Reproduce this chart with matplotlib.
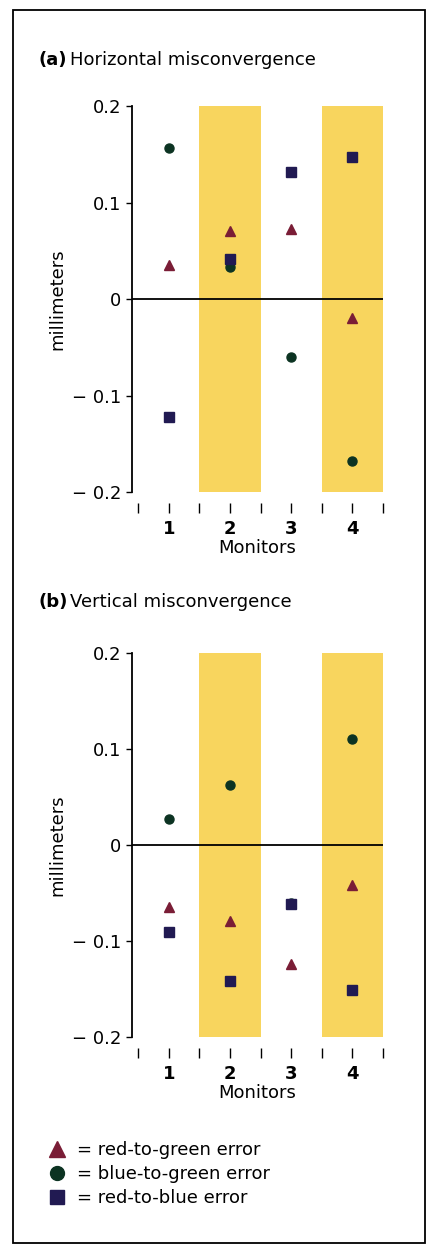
import matplotlib
matplotlib.use("Agg")
import matplotlib.pyplot as plt
from matplotlib.lines import Line2D
from matplotlib.patches import Rectangle

# monitors on the x axis
MONITORS = [1, 2, 3, 4]
SHADED = [2, 4]

# (a) horizontal misconvergence, millimeters
H_RED_GREEN = [0.035, 0.071, 0.073, -0.020]
H_BLUE_GREEN = [0.157, 0.033, -0.060, -0.168]
H_RED_BLUE = [-0.122, 0.042, 0.132, 0.147]

# (b) vertical misconvergence, millimeters
V_RED_GREEN = [-0.065, -0.079, -0.124, -0.042]
V_BLUE_GREEN = [0.027, 0.063, -0.060, 0.110]
V_RED_BLUE = [-0.091, -0.142, -0.062, -0.151]

YTICKS = [-0.2, -0.1, 0, 0.1, 0.2]
YTICKLABELS = ["\u2212 0.2", "\u2212 0.1", "0", "0.1", "0.2"]

C_TRI = "#7a1d36"
C_CIRC = "#0c3322"
C_SQ = "#211a52"
C_BAND = "#f8d55e"

FS = 13

plt.rcParams['font.family'] = ['DejaVu Sans']

fig = plt.figure(figsize=(4.29, 12.45), dpi=100)


def draw_panel(ax, red_green, blue_green, red_blue):
    ax.set_xlim(0.4, 4.5)
    ax.set_ylim(-0.2, 0.2)
    for m in SHADED:
        ax.axvspan(m - 0.5, m + 0.5, color=C_BAND, lw=0, zorder=0)
    ax.axhline(0, color="black", lw=1.3, zorder=1)

    ax.plot(MONITORS, blue_green, "o", color=C_CIRC, ms=6.5, zorder=3)
    ax.plot(MONITORS, red_blue, "s", color=C_SQ, ms=6.5, zorder=4)
    ax.plot(MONITORS, red_green, "^", color=C_TRI, ms=7, zorder=5)

    ax.spines['top'].set_visible(False)
    ax.spines['right'].set_visible(False)
    ax.spines['left'].set_linewidth(1.3)
    ax.spines['bottom'].set_position(('outward', 8))
    ax.spines['bottom'].set_visible(False)

    ax.set_yticks(YTICKS)
    ax.set_yticklabels(YTICKLABELS, fontsize=FS)
    ax.tick_params(axis='y', length=4, width=1, pad=4)

    ax.set_xticks(MONITORS)
    ax.set_xticklabels([str(m) for m in MONITORS], fontsize=FS, fontweight='bold')
    ax.set_xticks([0.5, 1.5, 2.5, 3.5, 4.5], minor=True)
    ax.tick_params(axis='x', which='both', length=7, width=1, pad=5)

    ax.set_xlabel("Monitors", fontsize=FS, labelpad=1)
    ax.set_ylabel("millimeters", fontsize=FS, labelpad=4)


ax1 = fig.add_axes([0.3077, 0.6048, 0.585, 0.310])
draw_panel(ax1, H_RED_GREEN, H_BLUE_GREEN, H_RED_BLUE)

ax2 = fig.add_axes([0.3077, 0.1671, 0.585, 0.3084])
draw_panel(ax2, V_RED_GREEN, V_BLUE_GREEN, V_RED_BLUE)

# panel titles
fig.text(38 / 429, 1 - 60 / 1245, "(a)", fontsize=FS, fontweight='bold', va='center')
fig.text(70 / 429, 1 - 60 / 1245, "Horizontal misconvergence", fontsize=FS, va='center')
fig.text(38 / 429, 1 - 602 / 1245, "(b)", fontsize=FS, fontweight='bold', va='center')
fig.text(70 / 429, 1 - 602 / 1245, "Vertical misconvergence", fontsize=FS, va='center')

# legend
handles = [
    Line2D([], [], marker="^", color=C_TRI, ls="none", ms=12),
    Line2D([], [], marker="o", color=C_CIRC, ls="none", ms=10),
    Line2D([], [], marker="s", color=C_SQ, ls="none", ms=9.5),
]
labels = ["= red-to-green error", "= blue-to-green error", "= red-to-blue error"]
fig.legend(handles, labels, loc="upper left", bbox_to_anchor=(48 / 429, 1 - 1141 / 1245),
           frameon=False, fontsize=FS, handlelength=1.0, handletextpad=0.6,
           labelspacing=0.33, borderpad=0, borderaxespad=0)

# outer frame
fig.patches.append(Rectangle((13 / 429, 2 / 1245), 412 / 429, 1233 / 1245,
                             transform=fig.transFigure, fill=False,
                             edgecolor="black", lw=1.3))

fig.savefig("out.png", dpi=100)
